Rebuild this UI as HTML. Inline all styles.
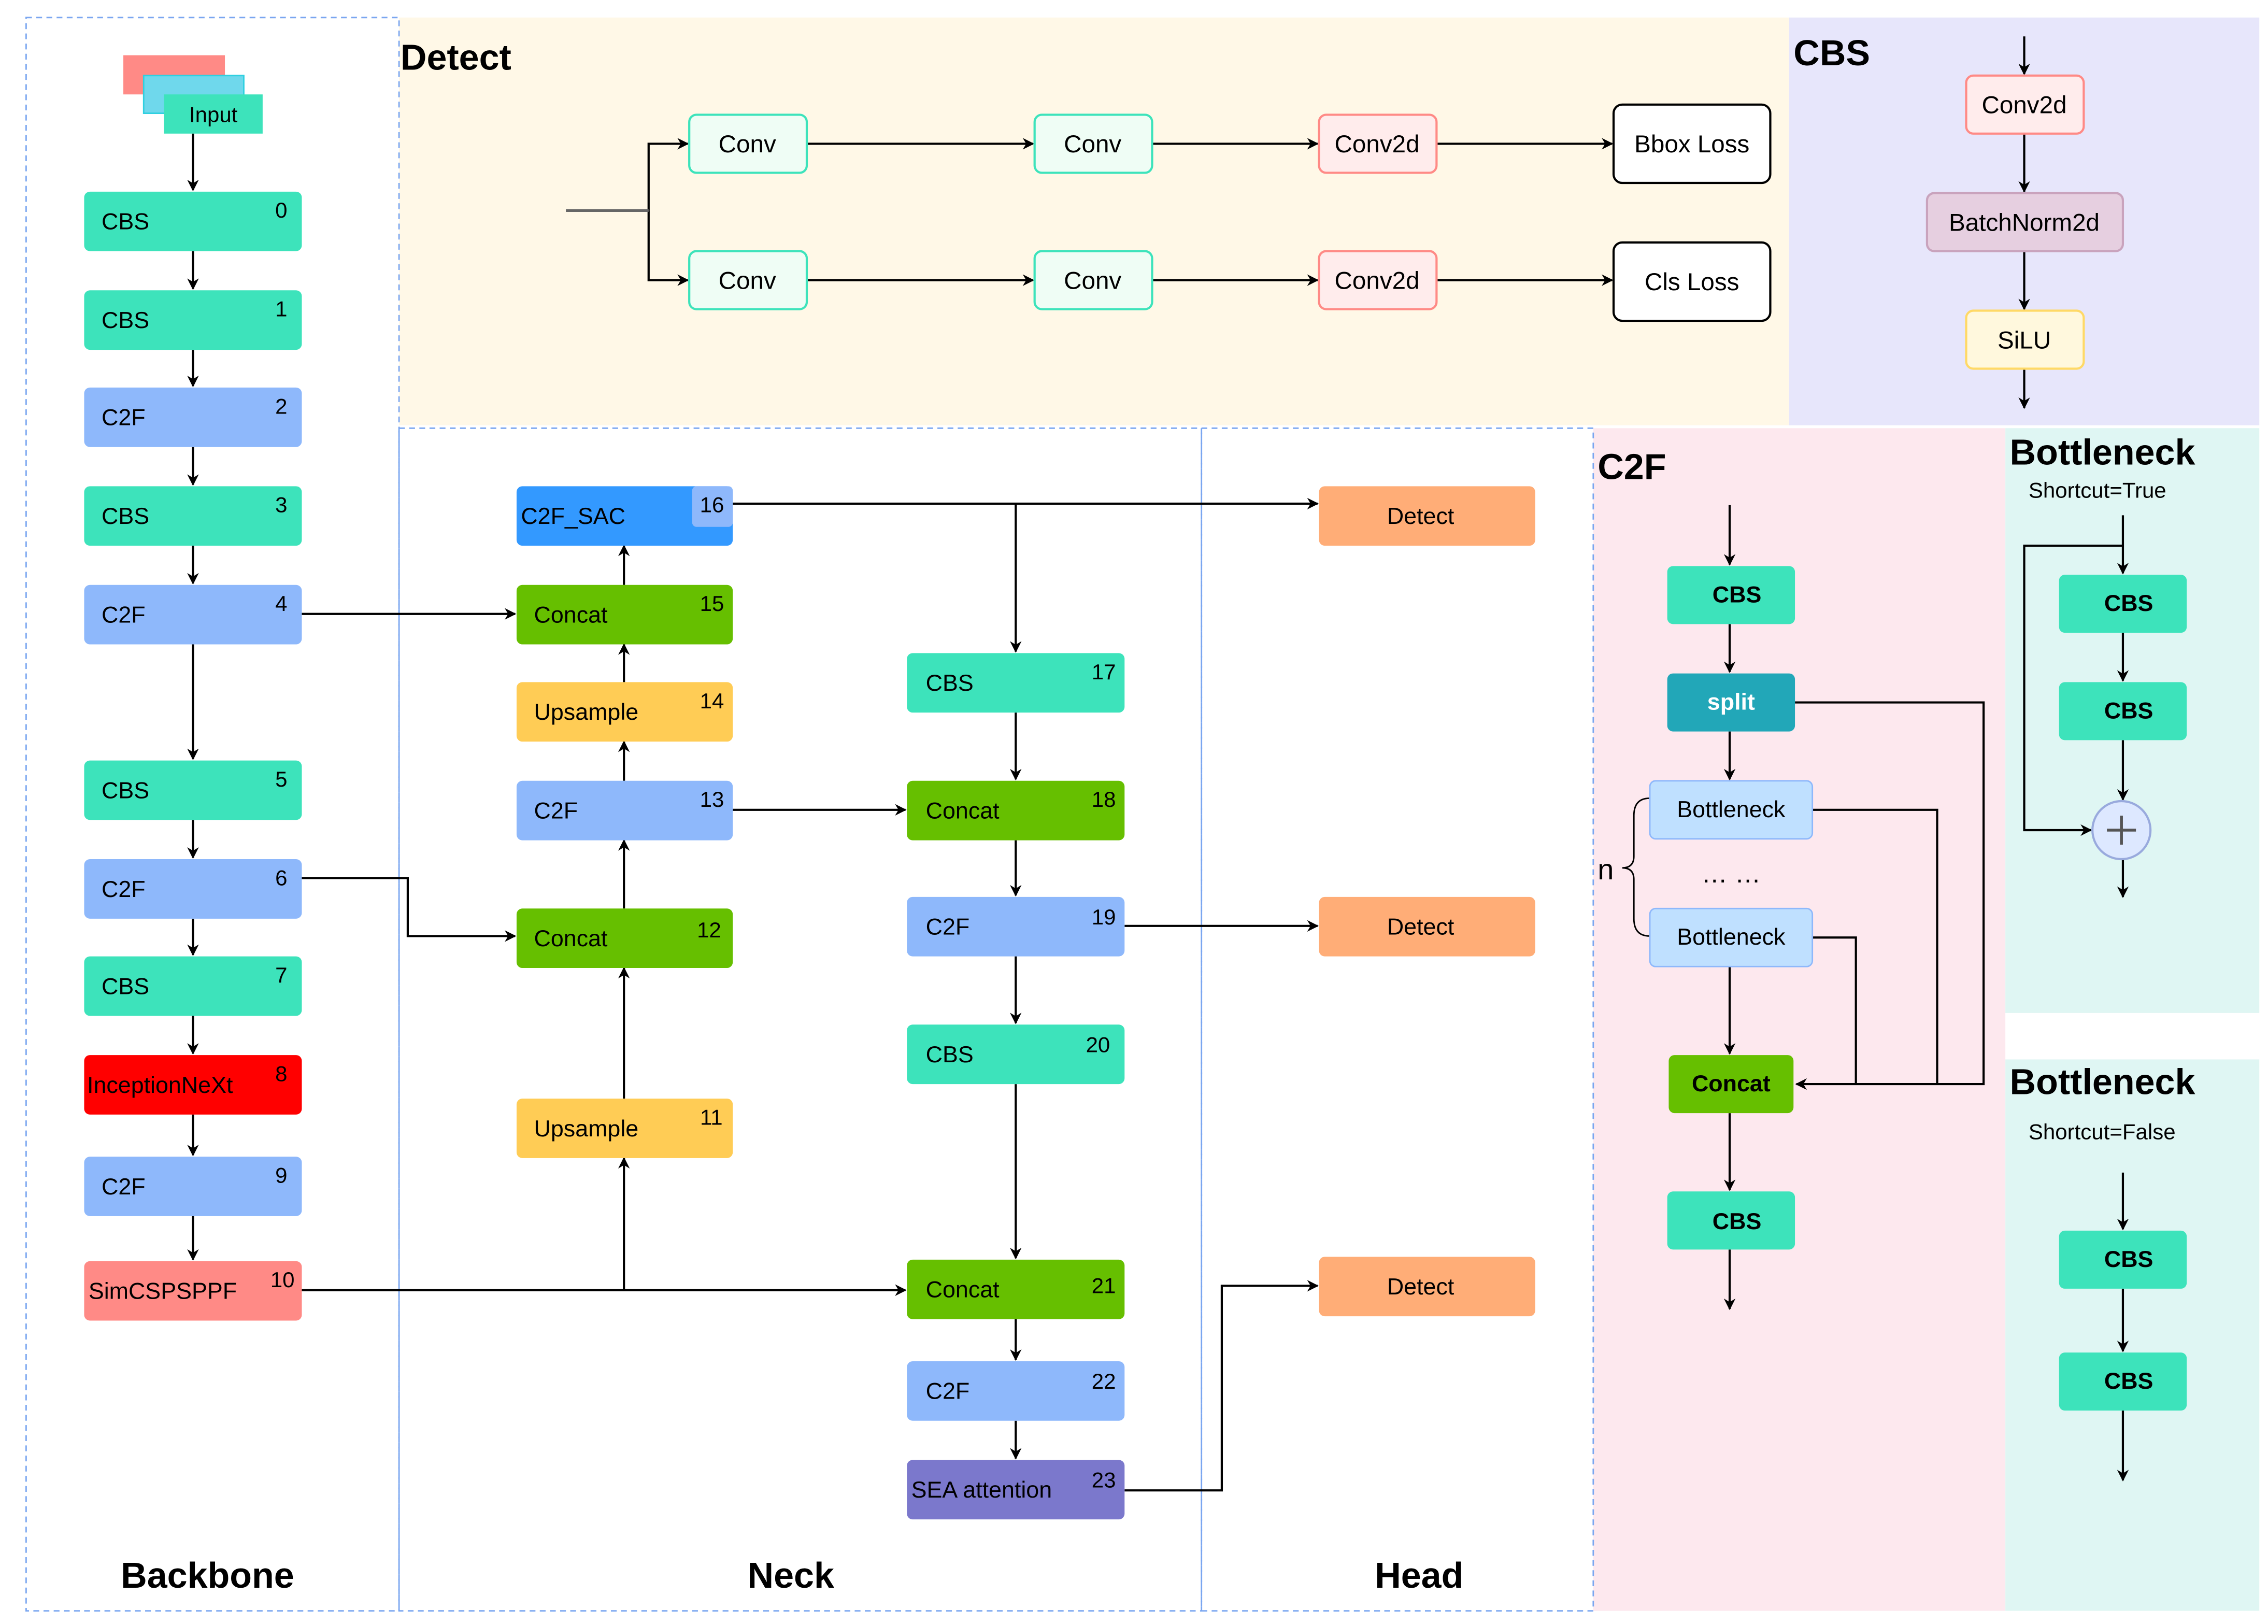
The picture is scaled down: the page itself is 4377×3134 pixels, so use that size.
<!DOCTYPE html>
<html><head><meta charset="utf-8"><style>
html,body{margin:0;padding:0;background:#fff;}
svg{display:block;}
text{font-family:"Liberation Sans",sans-serif;}
</style></head><body>
<svg width="4377" height="3134" viewBox="0 0 1563 1119" xmlns="http://www.w3.org/2000/svg">
<defs>
<marker id="a" viewBox="0 0 10 10" refX="9" refY="5" markerWidth="8" markerHeight="8" orient="auto-start-reverse" markerUnits="userSpaceOnUse"><path d="M0,0 L10,5 L0,10 L3,5z" fill="#000"/></marker>
</defs>
<rect width="1563" height="1119" fill="#fff"/>
<rect x="275" y="12" width="958" height="281" fill="#fff8e7"/>
<rect x="1233" y="12" width="324" height="281" fill="#e7e6fb"/>
<rect x="1098" y="295" width="284" height="815" fill="#fde8ee"/>
<rect x="1382" y="295" width="175" height="403" fill="#dff6f3"/>
<rect x="1382" y="730" width="175" height="380" fill="#dff6f3"/>
<g fill="none" stroke="#7aa6f0" stroke-width="1" stroke-dasharray="4,3">
<rect x="18" y="12" width="257" height="1098"/>
<rect x="275" y="295" width="553" height="815"/>
<rect x="828" y="295" width="270" height="815"/>
</g>
<g font-weight="bold" font-size="25" fill="#000">
<text x="276" y="48">Detect</text>
<text x="1236" y="45">CBS</text>
<text x="1101" y="330">C2F</text>
<text x="1385" y="320">Bottleneck</text>
<text x="1385" y="754">Bottleneck</text>
<text x="143" y="1094" text-anchor="middle">Backbone</text>
<text x="545" y="1094" text-anchor="middle">Neck</text>
<text x="978" y="1094" text-anchor="middle">Head</text>
</g>
<text x="1398" y="343" font-size="15">Shortcut=True</text>
<text x="1398" y="785" font-size="15">Shortcut=False</text>

<rect x="85" y="38" width="70" height="27" fill="#ff8a86"/>
<rect x="99" y="52" width="69" height="26" fill="#6fd8ec" stroke="#2fd0e0"/>
<rect x="113" y="65" width="68" height="27" fill="#3de3bb"/>
<text x="147" y="84" font-size="15" text-anchor="middle">Input</text>

<g stroke="#000" stroke-width="1.5" fill="none" marker-end="url(#a)">
<path d="M133,92V131"/><path d="M133,173V199"/><path d="M133,241V266"/><path d="M133,308V334"/><path d="M133,376V402"/>
<path d="M133,444V523"/><path d="M133,565V591"/><path d="M133,633V658"/><path d="M133,700V726"/><path d="M133,768V796"/><path d="M133,838V868"/>
<path d="M208,423H355"/>
<path d="M208,605H281V645H355"/>
<path d="M208,889H624"/>
<path d="M430,889V798"/>
<path d="M430,757V667"/>
<path d="M430,626V579"/><path d="M430,538V511"/><path d="M430,470V444"/><path d="M430,403V376"/>
<path d="M505,347H908"/>
<path d="M700,347V449"/>
<path d="M505,558H624"/>
<path d="M700,491V537"/><path d="M700,579V617"/><path d="M700,659V705"/><path d="M700,747V867"/><path d="M700,909V937"/><path d="M700,979V1005"/>
<path d="M775,638H908"/>
<path d="M775,1027H842V886H908"/>
<path d="M447,145V99H474"/><path d="M447,145V193H474"/>
<path d="M556,99H712"/><path d="M556,193H712"/>
<path d="M794,99H908"/><path d="M794,193H908"/>
<path d="M990,99H1111"/><path d="M990,193H1111"/>
<path d="M1395,25V51"/><path d="M1395,92V132"/><path d="M1395,173V213"/><path d="M1395,254V281"/>
<path d="M1192,348V389"/><path d="M1192,430V463"/><path d="M1192,504V537"/><path d="M1192,666V726"/><path d="M1192,767V820"/><path d="M1192,861V902"/>
<path d="M1237,484H1367V747H1238"/>
<path d="M1463,355V395"/><path d="M1463,436V469"/><path d="M1463,510V551"/><path d="M1463,592V618"/>
<path d="M1463,376H1395V572H1441"/>
<path d="M1463,808V847"/><path d="M1463,888V931"/><path d="M1463,972V1020"/>
</g>
<g stroke="#000" stroke-width="1.5" fill="none">
<path d="M390,145H447" stroke="#666" stroke-width="2"/>
<path d="M1249,558H1335V747"/>
<path d="M1249,646H1279V747"/>
<path d="M1137,550Q1126,550 1126,562V590Q1126,598 1118,598Q1126,598 1126,606V633Q1126,645 1137,645" stroke-width="1"/>
</g>

<g font-size="16">
<g fill="#3de3bb"><rect x="58" y="132" width="150" height="41" rx="4"/><rect x="58" y="200" width="150" height="41" rx="4"/><rect x="58" y="335" width="150" height="41" rx="4"/><rect x="58" y="524" width="150" height="41" rx="4"/><rect x="58" y="659" width="150" height="41" rx="4"/></g>
<g fill="#8eb8fb"><rect x="58" y="267" width="150" height="41" rx="4"/><rect x="58" y="403" width="150" height="41" rx="4"/><rect x="58" y="592" width="150" height="41" rx="4"/><rect x="58" y="797" width="150" height="41" rx="4"/></g>
<rect x="58" y="727" width="150" height="41" rx="4" fill="#ff0000"/>
<rect x="58" y="869" width="150" height="41" rx="4" fill="#ff8a86"/>
<text x="70" y="158">CBS</text><text x="70" y="226">CBS</text><text x="70" y="293">C2F</text><text x="70" y="361">CBS</text><text x="70" y="429">C2F</text>
<text x="70" y="550">CBS</text><text x="70" y="618">C2F</text><text x="70" y="685">CBS</text><text x="60" y="753">InceptionNeXt</text><text x="70" y="823">C2F</text><text x="61" y="895">SimCSPSPPF</text>
<g font-size="15" text-anchor="end"><text x="198" y="150">0</text><text x="198" y="218">1</text><text x="198" y="285">2</text><text x="198" y="353">3</text><text x="198" y="421">4</text><text x="198" y="542">5</text><text x="198" y="610">6</text><text x="198" y="677">7</text><text x="198" y="745">8</text><text x="198" y="815">9</text><text x="203" y="887">10</text></g>

<rect x="356" y="335" width="149" height="41" rx="4" fill="#3399ff"/>
<rect x="477" y="335" width="28" height="28" rx="3" fill="#8eb8fb"/>
<g fill="#66bf00"><rect x="356" y="403" width="149" height="41" rx="4"/><rect x="356" y="626" width="149" height="41" rx="4"/><rect x="625" y="538" width="150" height="41" rx="4"/><rect x="625" y="868" width="150" height="41" rx="4"/></g>
<g fill="#ffcc55"><rect x="356" y="470" width="149" height="41" rx="4"/><rect x="356" y="757" width="149" height="41" rx="4"/></g>
<g fill="#8eb8fb"><rect x="356" y="538" width="149" height="41" rx="4"/><rect x="625" y="618" width="150" height="41" rx="4"/><rect x="625" y="938" width="150" height="41" rx="4"/></g>
<g fill="#3de3bb"><rect x="625" y="450" width="150" height="41" rx="4"/><rect x="625" y="706" width="150" height="41" rx="4"/></g>
<rect x="625" y="1006" width="150" height="41" rx="4" fill="#7b78cc"/>
<text x="359" y="361">C2F_SAC</text><text x="368" y="429">Concat</text><text x="368" y="496">Upsample</text><text x="368" y="564">C2F</text><text x="368" y="652">Concat</text><text x="368" y="783">Upsample</text>
<text x="638" y="476">CBS</text><text x="638" y="564">Concat</text><text x="638" y="644">C2F</text><text x="638" y="732">CBS</text><text x="638" y="894">Concat</text><text x="638" y="964">C2F</text><text x="628" y="1032">SEA  attention</text>
<g font-size="15" text-anchor="end"><text x="499" y="353">16</text><text x="499" y="421">15</text><text x="499" y="488">14</text><text x="499" y="556">13</text><text x="497" y="646">12</text><text x="498" y="775">11</text>
<text x="769" y="468">17</text><text x="769" y="556">18</text><text x="769" y="637">19</text><text x="765" y="725">20</text><text x="769" y="891">21</text><text x="769" y="957">22</text><text x="769" y="1025">23</text></g>

<g fill="#ffad77"><rect x="909" y="335" width="149" height="41" rx="4"/><rect x="909" y="618" width="149" height="41" rx="4"/><rect x="909" y="866" width="149" height="41" rx="4"/></g>
<g text-anchor="middle"><text x="979" y="361">Detect</text><text x="979" y="644">Detect</text><text x="979" y="892">Detect</text></g>
</g>

<g font-size="17" text-anchor="middle">
<g fill="#effdf5" stroke="#3de3bb" stroke-width="1.5"><rect x="475" y="79" width="81" height="40" rx="5"/><rect x="475" y="173" width="81" height="40" rx="5"/><rect x="713" y="79" width="81" height="40" rx="5"/><rect x="713" y="173" width="81" height="40" rx="5"/></g>
<g fill="#ffecec" stroke="#ff8a86" stroke-width="1.5"><rect x="909" y="79" width="81" height="40" rx="5"/><rect x="909" y="173" width="81" height="40" rx="5"/></g>
<g fill="#fff" stroke="#000" stroke-width="1.5"><rect x="1112" y="72" width="108" height="54" rx="6"/><rect x="1112" y="167" width="108" height="54" rx="6"/></g>
<text x="515" y="105">Conv</text><text x="515" y="199">Conv</text><text x="753" y="105">Conv</text><text x="753" y="199">Conv</text>
<text x="949" y="105">Conv2d</text><text x="949" y="199">Conv2d</text>
<text x="1166" y="105">Bbox Loss</text><text x="1166" y="200">Cls Loss</text>
<rect x="1355" y="52" width="81" height="40" rx="5" fill="#ffecec" stroke="#ff8a86" stroke-width="1.5"/>
<rect x="1328" y="133" width="135" height="40" rx="5" fill="#e6cfe0" stroke="#c9a3bd" stroke-width="1.5"/>
<rect x="1355" y="214" width="81" height="40" rx="5" fill="#fff8dd" stroke="#ffd966" stroke-width="1.5"/>
<text x="1395" y="78">Conv2d</text><text x="1395" y="159">BatchNorm2d</text><text x="1395" y="240">SiLU</text>
</g>

<g font-size="16" font-weight="bold" text-anchor="middle">
<g fill="#3de3bb"><rect x="1149" y="390" width="88" height="40" rx="4"/><rect x="1149" y="821" width="88" height="40" rx="4"/>
<rect x="1419" y="396" width="88" height="40" rx="4"/><rect x="1419" y="470" width="88" height="40" rx="4"/>
<rect x="1419" y="848" width="88" height="40" rx="4"/><rect x="1419" y="932" width="88" height="40" rx="4"/></g>
<rect x="1149" y="464" width="88" height="40" rx="4" fill="#22a7b8"/>
<g fill="#bfe0ff" stroke="#8eb8fb"><rect x="1137" y="538" width="112" height="40" rx="4"/><rect x="1137" y="626" width="112" height="40" rx="4"/></g>
<rect x="1150" y="727" width="86" height="40" rx="4" fill="#66bf00"/>
<text x="1197" y="415">CBS</text><text x="1193" y="489" fill="#fff">split</text><text x="1193" y="563" font-weight="normal">Bottleneck</text><text x="1193" y="651" font-weight="normal">Bottleneck</text>
<text x="1193" y="752">Concat</text><text x="1197" y="847">CBS</text>
<text x="1467" y="421">CBS</text><text x="1467" y="495">CBS</text><text x="1467" y="873">CBS</text><text x="1467" y="957">CBS</text>
</g>
<text x="1193" y="608" font-size="18" text-anchor="middle">… …</text>
<text x="1101" y="606" font-size="20">n</text>
<circle cx="1462" cy="572" r="20" fill="#dde8ff" stroke="#99aadd" stroke-width="1.5"/>
<path d="M1452,572H1472M1462,562V582" stroke="#555" stroke-width="2"/>
</svg>
</body></html>
